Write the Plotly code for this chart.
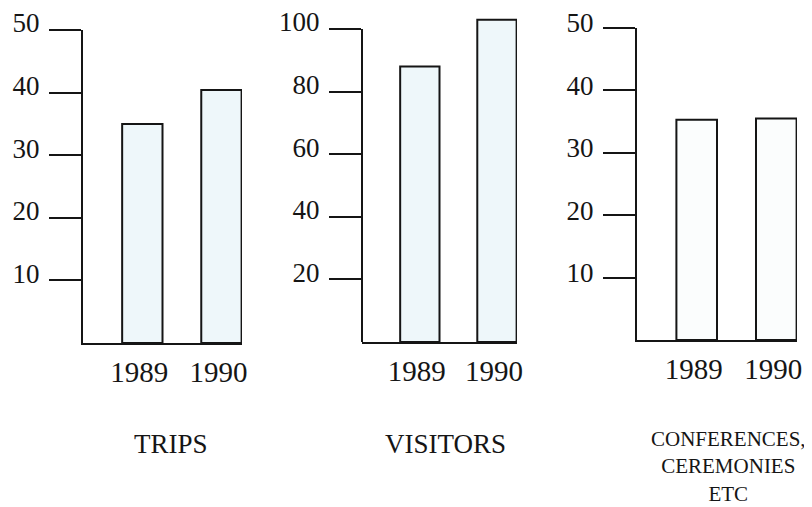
import plotly.graph_objects as go

years = ["1989", "1990"]
trips = [35, 40.4]
visitors = [88, 103]
conferences = [35.3, 35.5]

titles = ["TRIPS", "VISITORS", "CONFERENCES,<br>CEREMONIES<br>ETC"]
ticks_50 = [10, 20, 30, 40, 50]
ticks_100 = [20, 40, 60, 80, 100]

# the page body has an 8px margin; lay the figure out in page pixels
OFF = 8
W, H = 812 - OFF, 507 - OFF
FONT = "Liberation Serif, DejaVu Serif, serif"
INK = "#151515"


def fx(px):
    return (px - OFF) / W


def fy(py):
    return 1 - (py - OFF) / H


fig = go.Figure()

panels = [
    dict(vals=trips, fill="#eef7fa", xd=(83, 242), yd=(343, 30), rng=[0, 50], tv=ticks_50, shift=-7),
    dict(vals=visitors, fill="#eef7fa", xd=(362, 517), yd=(342, 16.5), rng=[0, 104], tv=ticks_100, shift=-7),
    dict(vals=conferences, fill="#fbfdfd", xd=(637, 797), yd=(340, 28), rng=[0, 50], tv=ticks_50, shift=-5),
]

layout = dict(
    template="none",
    width=W, height=H,
    margin=dict(l=0, r=0, t=0, b=0),
    paper_bgcolor="white", plot_bgcolor="rgba(0,0,0,0)",
    showlegend=False,
    font=dict(family=FONT, color=INK),
)

for i, p in enumerate(panels, start=1):
    xa = "x" if i == 1 else f"x{i}"
    ya = "y" if i == 1 else f"y{i}"
    fig.add_trace(go.Bar(
        x=years, y=p["vals"], xaxis=xa, yaxis=ya, width=0.51,
        marker=dict(color=p["fill"], line=dict(color=INK, width=2)),
        hoverinfo="x+y",
    ))
    layout[f"xaxis{'' if i == 1 else i}"] = dict(
        domain=[fx(p["xd"][0]), fx(p["xd"][1])],
        anchor=ya, type="category", range=[-0.75, 1.26],
        showline=True, linewidth=2, linecolor=INK,
        ticks="", showgrid=False, zeroline=False,
        tickfont=dict(family=FONT, size=29, color=INK),
        ticklabelstandoff=2, ticklabelshift=-3,
        automargin=False, fixedrange=True,
    )
    layout[f"yaxis{'' if i == 1 else i}"] = dict(
        domain=[fy(p["yd"][0]), fy(p["yd"][1])],
        anchor=xa, range=p["rng"],
        tickvals=p["tv"], ticktext=[str(v) for v in p["tv"]],
        showline=(i != 2), linewidth=2, linecolor=INK,
        ticks="outside", ticklen=32, tickwidth=2, tickcolor=INK,
        showgrid=False, zeroline=False,
        tickfont=dict(family=FONT, size=27, color=INK),
        ticklabelshift=p["shift"], ticklabelstandoff=4,
        ticklabeloverflow="allow",
        automargin=False, fixedrange=True,
    )

fig.update_layout(**layout)

# middle panel: vertical axis line stops at its top tick (100)
fig.add_shape(type="line", xref="x2 domain", yref="y2",
              x0=0, x1=0, y0=0, y1=ticks_100[-1],
              line=dict(color=INK, width=2))

title_pos = [(171, 444), (445, 444), (728, 466)]
for t, (cx, cy) in zip(titles, title_pos):
    fig.add_annotation(
        text=t, xref="paper", yref="paper",
        x=fx(cx), y=fy(cy), xanchor="center", yanchor="middle",
        showarrow=False, align="center",
        font=dict(family=FONT, size=27 if "<br>" not in t else 21, color=INK),
    )

fig.write_html("out.html")
